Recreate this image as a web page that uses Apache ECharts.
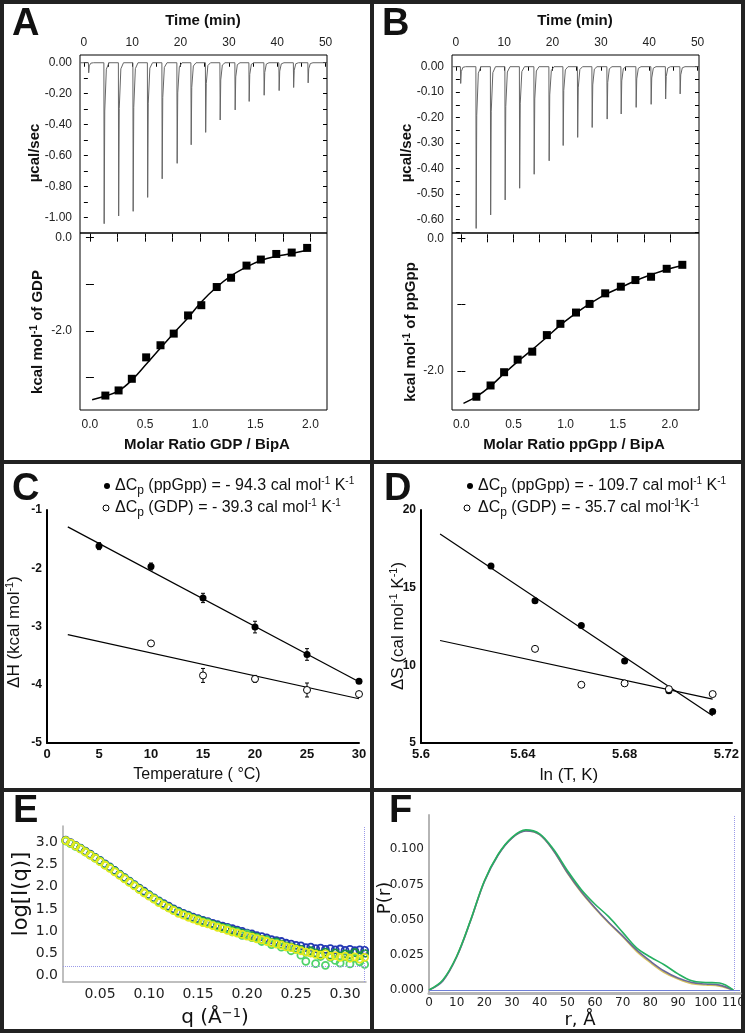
<!DOCTYPE html>
<html>
<head>
<meta charset="utf-8">
<script src="https://cdn.jsdelivr.net/npm/echarts@6/dist/echarts.min.js"></script>
<style>
html, body { margin: 0; padding: 0; background: #fff; }
#main { width: 745px; height: 1033px; }
</style>
</head>
<body>
<div id="main"></div>
<script>
// ---------- panel A / B : raw ITC thermograms ----------
var injTimeA = [1.0, 4.2, 7.2, 10.2, 13.2, 16.2, 19.3, 22.2, 25.2, 28.2, 31.3, 34.2, 37.3, 40.4, 43.4, 46.4];
var peakA = [-0.065, -1.04, -0.99, -0.96, -0.87, -0.75, -0.65, -0.53, -0.45, -0.37, -0.305, -0.25, -0.21, -0.18, -0.16, -0.13];
var injTimeB = [1.0, 4.2, 7.2, 10.2, 13.2, 16.2, 19.3, 22.2, 25.2, 28.2, 31.3, 34.2, 37.3, 40.4, 43.4, 46.4];
var peakB = [-0.066, -0.636, -0.583, -0.524, -0.478, -0.423, -0.37, -0.31, -0.278, -0.239, -0.206, -0.186, -0.16, -0.148, -0.127, -0.107];

// ---------- panel A / B : integrated heats ----------
var ratioA = [0.14, 0.26, 0.38, 0.51, 0.64, 0.76, 0.89, 1.01, 1.15, 1.28, 1.42, 1.55, 1.69, 1.83, 1.97];
var heatA = [-3.39, -3.28, -3.03, -2.57, -2.31, -2.06, -1.67, -1.45, -1.06, -0.86, -0.60, -0.47, -0.35, -0.32, -0.22];
var fitRatioA = [0.02, 0.14, 0.26, 0.38, 0.51, 0.64, 0.76, 0.89, 1.01, 1.15, 1.28, 1.42, 1.55, 1.69, 1.83, 1.97];
var fitHeatA = [-3.48, -3.40, -3.29, -3.06, -2.72, -2.37, -2.05, -1.72, -1.38, -1.06, -0.82, -0.63, -0.49, -0.40, -0.34, -0.27];
var ratioB = [0.144, 0.28, 0.41, 0.54, 0.68, 0.82, 0.95, 1.10, 1.23, 1.38, 1.53, 1.67, 1.82, 1.97, 2.12];
var heatB = [-2.39, -2.22, -2.02, -1.83, -1.71, -1.46, -1.29, -1.12, -0.99, -0.83, -0.73, -0.63, -0.58, -0.46, -0.40];
var fitRatioB = [0.02, 0.144, 0.28, 0.41, 0.54, 0.68, 0.82, 0.95, 1.10, 1.23, 1.38, 1.53, 1.67, 1.82, 1.97, 2.12];
var fitHeatB = [-2.49, -2.39, -2.23, -2.04, -1.86, -1.68, -1.49, -1.31, -1.13, -0.99, -0.85, -0.74, -0.64, -0.55, -0.47, -0.41];

// ---------- panel C : dH vs temperature ----------
var tempPp = [5, 10, 15, 20, 25, 30];
var dHPp = [-1.62, -1.97, -2.51, -3.01, -3.48, -3.94];
var dHPpErr = [0.06, 0.06, 0.08, 0.10, 0.10, 0];
var tempGdp = [10, 15, 20, 25, 30];
var dHGdp = [-3.29, -3.84, -3.90, -4.09, -4.16];
var dHGdpErr = [0, 0.12, 0.06, 0.12, 0];
var fitTemp = [2, 30];
var fitDHPp = [-1.29, -3.95];
var fitDHGdp = [-3.14, -4.24];

// ---------- panel D : dS vs ln T ----------
var lnTPp = [5.6275, 5.6448, 5.663, 5.680, 5.6974, 5.7146];
var dSPp = [16.4, 14.16, 12.57, 10.28, 8.36, 7.03];
var lnTGdp = [5.6448, 5.663, 5.680, 5.6974, 5.7146];
var dSGdp = [11.06, 8.75, 8.84, 8.47, 8.15];
var fitLnT = [5.6075, 5.7146];
var fitDSPp = [18.45, 6.75];
var fitDSGdp = [11.6, 7.83];

// ---------- panel E : SAXS curves ----------
var qE = [0.015, 0.020, 0.025, 0.030, 0.035, 0.040, 0.045, 0.050, 0.055, 0.060, 0.065, 0.070, 0.075, 0.080, 0.085, 0.090, 0.095,
  0.100, 0.105, 0.110, 0.115, 0.120, 0.125, 0.130, 0.135, 0.140, 0.145, 0.150, 0.155, 0.160, 0.165, 0.170, 0.175, 0.180, 0.185, 0.190, 0.195,
  0.200, 0.205, 0.210, 0.215, 0.220, 0.225, 0.230, 0.235, 0.240, 0.245, 0.250, 0.255, 0.260, 0.265, 0.270, 0.275, 0.280, 0.285, 0.290, 0.295,
  0.300, 0.305, 0.310, 0.315, 0.320];
var logIBlue = [3.06, 3.00, 2.94, 2.88, 2.81, 2.74, 2.67, 2.60, 2.52, 2.45, 2.37, 2.29, 2.21, 2.13, 2.05, 1.97, 1.90,
  1.82, 1.75, 1.68, 1.62, 1.56, 1.50, 1.45, 1.40, 1.36, 1.31, 1.28, 1.24, 1.21, 1.17, 1.14, 1.11, 1.08, 1.05, 1.02, 0.99,
  0.95, 0.93, 0.89, 0.87, 0.84, 0.80, 0.78, 0.76, 0.72, 0.70, 0.67, 0.66, 0.62, 0.63, 0.60, 0.61, 0.58, 0.60, 0.57, 0.59,
  0.56, 0.58, 0.55, 0.57, 0.56];
var logIDarkGreen = [3.05, 2.99, 2.93, 2.87, 2.80, 2.73, 2.66, 2.59, 2.51, 2.44, 2.36, 2.28, 2.20, 2.12, 2.04, 1.96, 1.88,
  1.81, 1.74, 1.67, 1.60, 1.54, 1.48, 1.43, 1.38, 1.34, 1.29, 1.26, 1.22, 1.19, 1.15, 1.12, 1.08, 1.06, 1.01, 0.99, 0.95,
  0.92, 0.89, 0.86, 0.81, 0.80, 0.74, 0.75, 0.70, 0.66, 0.64, 0.60, 0.58, 0.52, 0.55, 0.50, 0.47, 0.52, 0.45, 0.50, 0.43,
  0.48, 0.46, 0.51, 0.44, 0.49];
var logIGreen = [3.04, 2.98, 2.92, 2.86, 2.79, 2.72, 2.65, 2.58, 2.50, 2.43, 2.35, 2.27, 2.19, 2.11, 2.03, 1.95, 1.87,
  1.80, 1.73, 1.66, 1.59, 1.53, 1.47, 1.42, 1.37, 1.33, 1.28, 1.25, 1.20, 1.18, 1.13, 1.10, 1.05, 1.05, 0.98, 0.97, 0.90,
  0.93, 0.85, 0.84, 0.76, 0.79, 0.69, 0.72, 0.63, 0.64, 0.55, 0.58, 0.45, 0.31, 0.50, 0.26, 0.42, 0.22, 0.40, 0.33, 0.27,
  0.41, 0.25, 0.38, 0.30, 0.24];
var logIYellow = [3.05, 2.99, 2.93, 2.86, 2.79, 2.72, 2.65, 2.57, 2.49, 2.42, 2.34, 2.26, 2.18, 2.10, 2.02, 1.94, 1.86,
  1.79, 1.72, 1.64, 1.58, 1.52, 1.46, 1.40, 1.36, 1.31, 1.27, 1.23, 1.19, 1.16, 1.12, 1.08, 1.05, 1.01, 0.98, 0.95, 0.92,
  0.88, 0.86, 0.82, 0.80, 0.76, 0.73, 0.70, 0.68, 0.64, 0.62, 0.58, 0.55, 0.52, 0.50, 0.47, 0.45, 0.48, 0.42, 0.44, 0.40,
  0.43, 0.38, 0.41, 0.36, 0.40];
var qCutE = 0.317;
var logICutE = 0.2;

// ---------- panel F : P(r) ----------
var rF = [0, 5, 10, 15, 20, 25, 30, 35, 40, 45, 50, 55, 60, 65, 70, 75, 80, 85, 90, 95, 100, 105, 110];
var prYellow = [0, 0.0068, 0.0238, 0.0492, 0.0772, 0.0962, 0.1082, 0.1133, 0.1105, 0.0990, 0.0832, 0.0695, 0.0580, 0.0475, 0.0380, 0.0275, 0.0195, 0.0125, 0.0078, 0.0045, 0.0036, 0.0028, 0];
var prPurple = [0, 0.0065, 0.0235, 0.0490, 0.0770, 0.0960, 0.1080, 0.1130, 0.1105, 0.0990, 0.0835, 0.0700, 0.0585, 0.0480, 0.0385, 0.0285, 0.0205, 0.0135, 0.0085, 0.0053, 0.0043, 0.0035, 0];
var prGreen = [0, 0.0072, 0.0240, 0.0495, 0.0775, 0.0965, 0.1085, 0.1138, 0.1110, 0.1000, 0.0850, 0.0715, 0.0610, 0.0520, 0.0410, 0.0300, 0.0235, 0.0180, 0.0115, 0.0066, 0.0054, 0.0050, 0];
var dmaxF = 110.5;

// ---------- tick values ----------
var timeTicks = [0, 5, 10, 15, 20, 25, 30, 35, 40, 45, 50];
var timeLabels = [0, 10, 20, 30, 40, 50];
var powerTicksA = [0, -0.1, -0.2, -0.3, -0.4, -0.5, -0.6, -0.7, -0.8, -0.9, -1.0];
var powerLabelsA = [0, -0.2, -0.4, -0.6, -0.8, -1.0];
var powerTicksB = [0, -0.05, -0.1, -0.15, -0.2, -0.25, -0.3, -0.35, -0.4, -0.45, -0.5, -0.55, -0.6, -0.65];
var powerLabelsB = [0, -0.1, -0.2, -0.3, -0.4, -0.5, -0.6];
var ratioTicks = [0, 0.25, 0.5, 0.75, 1, 1.25, 1.5, 1.75, 2];
var ratioLabels = [0, 0.5, 1, 1.5, 2];
var heatTicksA = [0, -1, -2, -3];
var heatTicksB = [0, -1, -2];
var heatLabels = [0, -2];
var lnTLabels = [5.6, 5.64, 5.68, 5.72];
var qLabels = [0.05, 0.10, 0.15, 0.20, 0.25, 0.30];
var logILabels = [0, 0.5, 1.0, 1.5, 2.0, 2.5, 3.0];
var rLabels = [0, 10, 20, 30, 40, 50, 60, 70, 80, 90, 100, 110];
var prLabels = [0, 0.025, 0.05, 0.075, 0.1];

function zip(a, b) {
  return a.map(function (v, i) { return [v, b[i]]; });
}

// thermogram trace: flat baseline with a sharp spike at every injection
function thermo(times, peaks) {
  var pts = [[-0.8, 0]];
  times.forEach(function (t, i) {
    var p = peaks[i];
    pts.push([t - 0.06, 0], [t, p], [t + 0.12, p * 0.3], [t + 0.45, p * 0.04], [t + 1.0, 0]);
  });
  pts.push([50.3, 0]);
  return pts;
}

function errBars(xs, ys, es) {
  var out = [];
  xs.forEach(function (x, i) {
    if (es[i] > 0) out.push([x, ys[i] - es[i], ys[i] + es[i]]);
  });
  return out;
}

var ARIAL = 'Liberation Sans, Arial, sans-serif';
var DEJA = 'DejaVu Sans, sans-serif';

function frameAxis(gi, pos, min, max, ticks, labels, dec, margin) {
  return {
    type: 'value', gridIndex: gi, position: pos, min: min, max: max,
    axisLine: { show: false }, splitLine: { show: false },
    axisTick: { show: true, inside: true, length: 4, customValues: ticks, lineStyle: { color: '#000', width: 1 } },
    axisLabel: {
      show: labels.length > 0, customValues: labels.length ? labels : undefined, margin: margin || 6,
      fontFamily: ARIAL, fontSize: 12, color: '#222',
      formatter: function (v) { return v.toFixed(dec); }
    }
  };
}

function plainAxis(gi, pos, min, max, opt) {
  return {
    type: 'value', gridIndex: gi, position: pos, min: min, max: max,
    interval: opt.interval,
    axisLine: { show: true, onZero: false, lineStyle: { color: opt.lineColor, width: opt.lineWidth } },
    axisTick: { show: false }, splitLine: { show: false },
    axisLabel: {
      customValues: opt.labels, margin: opt.margin, fontFamily: opt.font, fontWeight: opt.weight || 'normal',
      fontSize: opt.size, color: opt.color || '#111',
      formatter: opt.formatter
    }
  };
}

function grid(l, t, w, h, framed) {
  var g = { left: l, top: t, width: w, height: h, containLabel: false, outerBoundsMode: 'none' };
  if (framed) { g.show = true; g.borderColor = '#000'; g.borderWidth = 1; }
  return g;
}

var chart = echarts.init(document.getElementById('main'), null, { renderer: 'canvas' });

function txt(x, y, text, font, extra) {
  var el = {
    type: 'text', x: x, y: y, silent: true,
    style: { text: text, font: font, fill: '#111', align: 'center', verticalAlign: 'middle', textAlign: 'center', textVerticalAlign: 'middle' }
  };
  if (extra) {
    if (extra.rotation) el.rotation = extra.rotation;
    if (extra.align) { el.style.align = extra.align; el.style.textAlign = extra.align; }
    if (extra.rich) el.style.rich = extra.rich;
  }
  return el;
}

var ROT = Math.PI / 2;
var itcRich = {
  b: { font: 'bold 15px ' + ARIAL, fill: '#111' },
  s: { font: 'bold 10px ' + ARIAL, fill: '#111', padding: [0, 0, 8, 0] }
};
var legRich = {
  n: { font: '16px ' + ARIAL, fill: '#111' },
  sub: { font: '12px ' + ARIAL, fill: '#111', padding: [9, 0, 0, 0] },
  sup: { font: '10px ' + ARIAL, fill: '#111', padding: [0, 0, 9, 0] }
};
var nameRich = {
  n: { font: '17px ' + ARIAL, fill: '#111' },
  sup: { font: '11px ' + ARIAL, fill: '#111', padding: [0, 0, 8, 0] }
};
var saxsRich = {
  n: { font: '20px ' + DEJA, fill: '#111' },
  sup: { font: '13px ' + DEJA, fill: '#111', padding: [0, 0, 9, 0] }
};

var graphics = [
  { type: 'rect', silent: true, shape: { x: 2, y: 2, width: 741, height: 1029 }, style: { fill: 'none', stroke: '#222', lineWidth: 4 } },
  { type: 'line', silent: true, shape: { x1: 372, y1: 0, x2: 372, y2: 1033 }, style: { stroke: '#222', lineWidth: 4 } },
  { type: 'line', silent: true, shape: { x1: 0, y1: 462, x2: 745, y2: 462 }, style: { stroke: '#222', lineWidth: 4 } },
  { type: 'line', silent: true, shape: { x1: 0, y1: 790, x2: 745, y2: 790 }, style: { stroke: '#222', lineWidth: 4 } },

  txt(12, 25, 'A', 'bold 38px ' + ARIAL, { align: 'left' }),
  txt(382, 25, 'B', 'bold 38px ' + ARIAL, { align: 'left' }),
  txt(12, 490, 'C', 'bold 38px ' + ARIAL, { align: 'left' }),
  txt(384, 490, 'D', 'bold 38px ' + ARIAL, { align: 'left' }),
  txt(13, 812, 'E', 'bold 38px ' + ARIAL, { align: 'left' }),
  txt(389, 812, 'F', 'bold 38px ' + ARIAL, { align: 'left' }),

  txt(203, 21, 'Time (min)', 'bold 15px ' + ARIAL),
  txt(575, 21, 'Time (min)', 'bold 15px ' + ARIAL),
  txt(35, 153, 'µcal/sec', 'bold 15px ' + ARIAL, { rotation: ROT }),
  txt(407, 153, 'µcal/sec', 'bold 15px ' + ARIAL, { rotation: ROT }),
  txt(38, 332, '{b|kcal mol}{s|-1}{b| of GDP}', 'bold 15px ' + ARIAL, { rotation: ROT, rich: itcRich }),
  txt(411, 332, '{b|kcal mol}{s|-1}{b| of ppGpp}', 'bold 15px ' + ARIAL, { rotation: ROT, rich: itcRich }),
  txt(207, 445, 'Molar Ratio GDP / BipA', 'bold 15px ' + ARIAL),
  txt(574, 445, 'Molar Ratio ppGpp / BipA', 'bold 15px ' + ARIAL),

  { type: 'circle', silent: true, shape: { cx: 107, cy: 486, r: 3 }, style: { fill: '#000' } },
  { type: 'circle', silent: true, shape: { cx: 106, cy: 508, r: 3 }, style: { fill: '#fff', stroke: '#000', lineWidth: 1 } },
  txt(115, 486, '{n|ΔC}{sub|p}{n| (ppGpp) = - 94.3 cal mol}{sup|-1}{n| K}{sup|-1}', '16px ' + ARIAL, { align: 'left', rich: legRich }),
  txt(115, 508, '{n|ΔC}{sub|p}{n| (GDP) = - 39.3 cal mol}{sup|-1}{n| K}{sup|-1}', '16px ' + ARIAL, { align: 'left', rich: legRich }),
  { type: 'circle', silent: true, shape: { cx: 470, cy: 486, r: 3 }, style: { fill: '#000' } },
  { type: 'circle', silent: true, shape: { cx: 467, cy: 508, r: 3 }, style: { fill: '#fff', stroke: '#000', lineWidth: 1 } },
  txt(478, 486, '{n|ΔC}{sub|p}{n| (ppGpp) = - 109.7 cal mol}{sup|-1}{n| K}{sup|-1}', '16px ' + ARIAL, { align: 'left', rich: legRich }),
  txt(478, 508, '{n|ΔC}{sub|p}{n| (GDP) = - 35.7 cal mol}{sup|-1}{n|K}{sup|-1}', '16px ' + ARIAL, { align: 'left', rich: legRich }),

  txt(197, 775, 'Temperature ( °C)', '16px ' + ARIAL),
  txt(14, 632, '{n|ΔH (kcal mol}{sup|-1}{n|)}', '17px ' + ARIAL, { rotation: ROT, rich: nameRich }),
  txt(569, 775, 'ln (T, K)', '17px ' + ARIAL),
  txt(398, 626, '{n|ΔS (cal mol}{sup|-1}{n| K}{sup|-1}{n|)}', '17px ' + ARIAL, { rotation: ROT, rich: nameRich }),

  txt(22, 894, 'log[I(q)]', '21px ' + DEJA, { rotation: ROT }),
  txt(215, 1018, '{n|q (Å}{sup|−1}{n|)}', '20px ' + DEJA, { rich: saxsRich }),
  txt(385, 898, 'P(r)', '18px ' + DEJA, { rotation: ROT }),
  txt(580, 1020, 'r, Å', '18px ' + DEJA)
];

function errSeries(xi, yi, data) {
  return {
    type: 'custom', xAxisIndex: xi, yAxisIndex: yi, data: data, z: 2, silent: true,
    encode: { x: 0, y: [1, 2] },
    renderItem: function (params, api) {
      var a = api.coord([api.value(0), api.value(1)]);
      var b = api.coord([api.value(0), api.value(2)]);
      var st = { stroke: '#000', lineWidth: 1 };
      return {
        type: 'group', children: [
          { type: 'line', shape: { x1: a[0], y1: a[1], x2: b[0], y2: b[1] }, style: st },
          { type: 'line', shape: { x1: a[0] - 2, y1: a[1], x2: a[0] + 2, y2: a[1] }, style: st },
          { type: 'line', shape: { x1: b[0] - 2, y1: b[1], x2: b[0] + 2, y2: b[1] }, style: st }
        ]
      };
    }
  };
}

function blackLine(xi, yi, data, smooth, width) {
  return {
    type: 'line', xAxisIndex: xi, yAxisIndex: yi, data: data, smooth: smooth, showSymbol: false, silent: true, z: 1,
    lineStyle: { color: '#000', width: width }
  };
}

function dots(xi, yi, data, filled, symbol, size) {
  return {
    type: 'scatter', xAxisIndex: xi, yAxisIndex: yi, data: data, symbol: symbol || 'circle', symbolSize: size || 7, z: 3, silent: true,
    itemStyle: filled ? { color: '#000', opacity: 1 } : { color: '#fff', borderColor: '#000', borderWidth: 1, opacity: 1 }
  };
}

function saxs(data, color, z) {
  return {
    type: 'scatter', xAxisIndex: 8, yAxisIndex: 10, data: data, symbol: 'circle', symbolSize: 7, z: z, silent: true,
    itemStyle: { color: 'rgba(255,255,255,0)', borderColor: color, borderWidth: 1.8, opacity: 1 }
  };
}

function prLine(data, color, z) {
  return {
    type: 'line', xAxisIndex: 9, yAxisIndex: 11, data: data, smooth: 0.35, showSymbol: false, silent: true, z: z,
    lineStyle: { color: color, width: 1.6 }
  };
}

var option = {
  animation: false,
  backgroundColor: '#fff',
  grid: [
    grid(80, 55, 247, 178, true),
    grid(80, 233, 247, 177, true),
    grid(452, 55, 247, 178, true),
    grid(452, 233, 247, 177, true),
    grid(47, 510, 312, 233, false),
    grid(421, 510, 311, 233, false),
    grid(63, 826, 303, 156, false),
    grid(429, 815, 311, 178, false)
  ],
  xAxis: [
    frameAxis(0, 'top', -0.8, 50.3, timeTicks, timeLabels, 0, 6),
    frameAxis(1, 'bottom', -0.09, 2.15, ratioTicks, ratioLabels, 1, 9),
    frameAxis(1, 'top', -0.09, 2.15, ratioTicks, [], 1),
    frameAxis(2, 'top', -0.8, 50.3, timeTicks, timeLabels, 0, 6),
    frameAxis(3, 'bottom', -0.09, 2.28, ratioTicks, ratioLabels, 1, 9),
    frameAxis(3, 'top', -0.09, 2.28, ratioTicks, [], 1),
    plainAxis(4, 'bottom', 0, 30, { interval: 5, lineColor: '#000', lineWidth: 2, margin: 5, font: ARIAL, weight: 'bold', size: 13,
      formatter: function (v) { return String(v); } }),
    plainAxis(5, 'bottom', 5.6, 5.7222, { lineColor: '#000', lineWidth: 2, labels: lnTLabels, margin: 5, font: ARIAL, weight: 'bold', size: 13,
      formatter: function (v) { return String(parseFloat(v.toFixed(2))); } }),
    plainAxis(6, 'bottom', 0.0122, 0.3214, { lineColor: '#aaa', lineWidth: 1.5, labels: qLabels, margin: 5, font: DEJA, size: 14, color: '#222',
      formatter: function (v) { return v.toFixed(2); } }),
    plainAxis(7, 'bottom', 0, 112.4, { lineColor: '#b5b5b5', lineWidth: 3, labels: rLabels, margin: 4, font: DEJA, size: 12, color: '#222',
      formatter: function (v) { return String(Math.round(v)); } })
  ],
  yAxis: [
    frameAxis(0, 'left', -1.1, 0.05, powerTicksA, powerLabelsA, 2, 8),
    frameAxis(0, 'right', -1.1, 0.05, powerTicksA, [], 2),
    frameAxis(1, 'left', -3.7, 0.1, heatTicksA, heatLabels, 1, 8),
    frameAxis(1, 'right', -3.7, 0.1, heatTicksA, [], 1),
    frameAxis(2, 'left', -0.654, 0.046, powerTicksB, powerLabelsB, 2, 8),
    frameAxis(2, 'right', -0.654, 0.046, powerTicksB, [], 2),
    frameAxis(3, 'left', -2.59, 0.08, heatTicksB, heatLabels, 1, 8),
    frameAxis(3, 'right', -2.59, 0.08, heatTicksB, [], 1),
    plainAxis(4, 'left', -5, -1, { interval: 1, lineColor: '#000', lineWidth: 2, margin: 5, font: ARIAL, weight: 'bold', size: 12,
      formatter: function (v) { return String(v); } }),
    plainAxis(5, 'left', 5, 20, { interval: 5, lineColor: '#000', lineWidth: 2, margin: 5, font: ARIAL, weight: 'bold', size: 12,
      formatter: function (v) { return String(v); } }),
    plainAxis(6, 'left', -0.159, 3.38, { lineColor: '#aaa', lineWidth: 1.5, labels: logILabels, margin: 5, font: DEJA, size: 14, color: '#222',
      formatter: function (v) { return v.toFixed(1); } }),
    plainAxis(7, 'left', -0.0021, 0.1244, { lineColor: '#b5b5b5', lineWidth: 2, labels: prLabels, margin: 5, font: DEJA, size: 12, color: '#222',
      formatter: function (v) { return v.toFixed(3); } })
  ],
  series: [
    // A
    { type: 'line', xAxisIndex: 0, yAxisIndex: 0, data: thermo(injTimeA, peakA), showSymbol: false, silent: true,
      lineStyle: { color: '#666', width: 1 } },
    blackLine(1, 2, zip(fitRatioA, fitHeatA), 0.4, 1.5),
    dots(1, 2, zip(ratioA, heatA), true, 'rect', 8),
    // B
    { type: 'line', xAxisIndex: 3, yAxisIndex: 4, data: thermo(injTimeB, peakB), showSymbol: false, silent: true,
      lineStyle: { color: '#666', width: 1 } },
    blackLine(4, 6, zip(fitRatioB, fitHeatB), 0.4, 1.5),
    dots(4, 6, zip(ratioB, heatB), true, 'rect', 8),
    // C
    blackLine(6, 8, zip(fitTemp, fitDHPp), false, 1.2),
    blackLine(6, 8, zip(fitTemp, fitDHGdp), false, 1.2),
    errSeries(6, 8, errBars(tempPp, dHPp, dHPpErr)),
    errSeries(6, 8, errBars(tempGdp, dHGdp, dHGdpErr)),
    dots(6, 8, zip(tempPp, dHPp), true),
    dots(6, 8, zip(tempGdp, dHGdp), false),
    // D
    blackLine(7, 9, zip(fitLnT, fitDSPp), false, 1.2),
    blackLine(7, 9, zip(fitLnT, fitDSGdp), false, 1.2),
    dots(7, 9, zip(lnTPp, dSPp), true),
    dots(7, 9, zip(lnTGdp, dSGdp), false),
    // E
    {
      type: 'line', xAxisIndex: 8, yAxisIndex: 10, data: [], silent: true,
      markLine: {
        silent: true, symbol: 'none', label: { show: false },
        lineStyle: { color: '#9a9ae8', type: 'dotted', width: 1 },
        data: [{ xAxis: qCutE }, { yAxis: logICutE }]
      }
    },
    saxs(zip(qE, logIBlue), '#2438b4', 2),
    saxs(zip(qE, logIDarkGreen), '#1c8f45', 3),
    saxs(zip(qE, logIGreen), '#4fd36a', 4),
    saxs(zip(qE, logIYellow), '#e4ea1e', 5),
    // F
    {
      type: 'line', xAxisIndex: 9, yAxisIndex: 11, data: [], silent: true,
      markLine: {
        silent: true, symbol: 'none', label: { show: false },
        data: [
          { xAxis: dmaxF, lineStyle: { color: '#9a9ae8', type: 'dotted', width: 1 } },
          { yAxis: 0, lineStyle: { color: '#6f7fd8', type: 'solid', width: 1 } }
        ]
      }
    },
    prLine(zip(rF, prYellow), '#d8c460', 2),
    prLine(zip(rF, prPurple), '#6a6898', 3),
    prLine(zip(rF, prGreen), '#25b061', 4)
  ],
  graphic: { elements: graphics }
};

chart.setOption(option);
</script>
</body>
</html>
